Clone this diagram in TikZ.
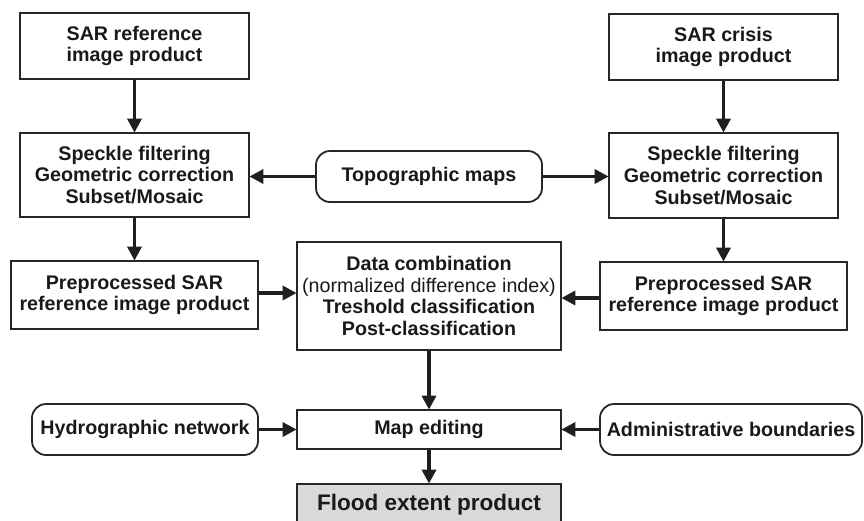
\documentclass[tikz,border=0pt]{standalone}
\usepackage{fontspec}
\setmainfont{Liberation Sans}
\usetikzlibrary{arrows.meta}
\begin{document}
\begin{tikzpicture}[x=1pt,y=-1pt,
  every node/.style={inner sep=0pt, align=center, font=\fontsize{19.7}{21.7}\selectfont\bfseries, text=black!90},
  box/.style={draw=black!85, line width=1.8pt, rectangle},
  rbox/.style={draw=black!85, line width=1.8pt, rectangle, rounded corners=14pt},
  conn/.style={line width=3.4pt, draw=black!88, -{Triangle[length=14pt,width=14pt]}, shorten >=-0.5pt}
]
\useasboundingbox (0,0) rectangle (864,520);
\node[box, minimum width=229pt, minimum height=66pt] (ref) at (134.5,46) {SAR reference\\image product};
\node[box, minimum width=229pt, minimum height=66pt] (cri) at (723.5,47) {SAR crisis\\image product};
\node[box, minimum width=229pt, minimum height=84pt] (spL) at (134.5,175) {Speckle filtering\\Geometric correction\\Subset/Mosaic};
\node[box, minimum width=229pt, minimum height=85pt] (spR) at (723.5,175.5) {Speckle filtering\\Geometric correction\\Subset/Mosaic};
\node[rbox, minimum width=226pt, minimum height=51pt] (topo) at (429,176.5) {Topographic maps};
\node[box, minimum width=247pt, minimum height=68pt] (preL) at (134.5,295) {Preprocessed SAR\\reference image product};
\node[box, minimum width=247pt, minimum height=68pt] (preR) at (723.5,296) {Preprocessed SAR\\reference image product};
\node[box, minimum width=264pt, minimum height=108pt] (dc) at (429,296) {Data combination\\{\mdseries(normalized difference index)}\\Treshold classification\\Post-classification};
\node[box, minimum width=264pt, minimum height=39pt] (map) at (429,429.5) {Map editing};
\node[rbox, minimum width=226pt, minimum height=51pt] (hyd) at (145,429.5) {Hydrographic network};
\node[rbox, minimum width=262pt, minimum height=51pt] (adm) at (731,429.5) {Administrative boundaries};
\node[box, fill=black!15, minimum width=264pt, minimum height=42pt, font=\fontsize{22.5}{25}\selectfont\bfseries] (fl) at (429,505) {Flood extent product};
\draw[conn] (ref) -- (spL);
\draw[conn] (cri) -- (spR);
\draw[conn] (topo) -- (spL.east |- topo);
\draw[conn] (topo) -- (spR.west |- topo);
\draw[conn] (spL) -- (preL);
\draw[conn] (spR) -- (preR);
\draw[conn] ([yshift=2pt]preL.east) -- ([yshift=2pt]preL.east -| dc.west);
\draw[conn] ([yshift=-2pt]preR.west) -- ([yshift=-2pt]preR.west -| dc.east);
\draw[conn] (dc) -- (map);
\draw[conn] (map) -- (fl);
\draw[conn] (hyd) -- (map);
\draw[conn] (adm) -- (map);
\end{tikzpicture}
\end{document}
